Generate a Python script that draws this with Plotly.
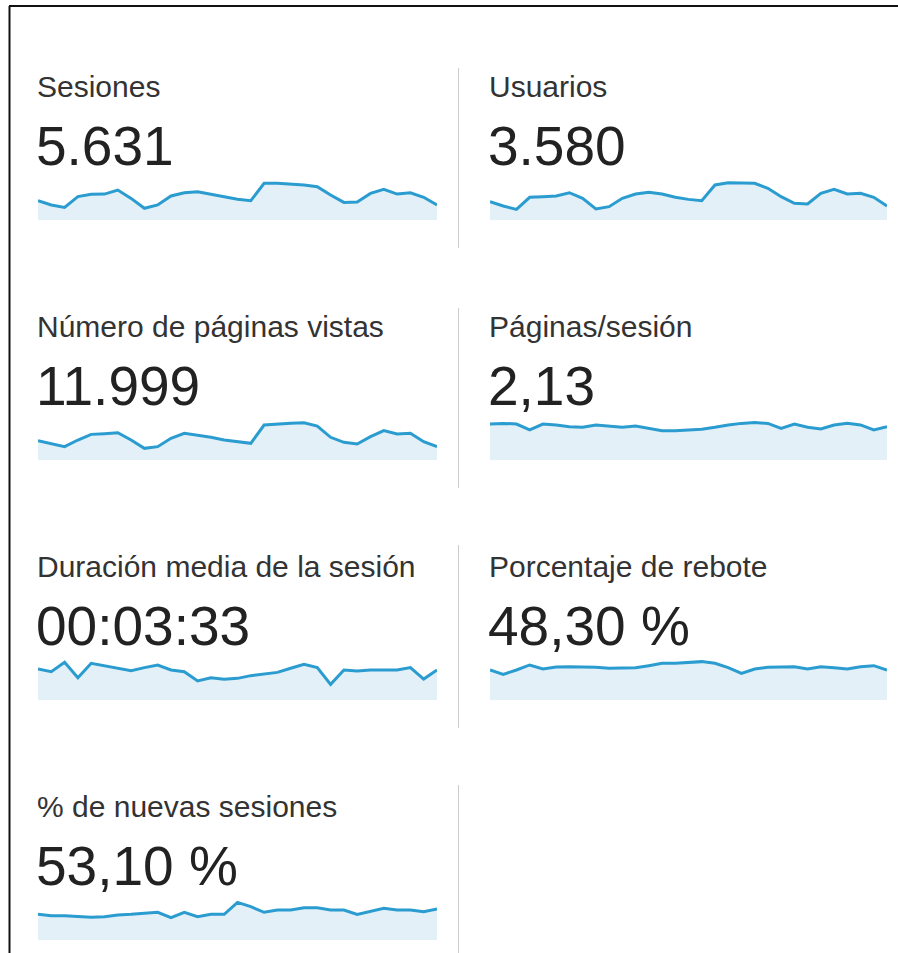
import plotly.graph_objects as go

W, H = 898, 953

days = list(range(1, 32))

titles = ["Sesiones", "Usuarios", "Número de páginas vistas", "Páginas/sesión",
          "Duración media de la sesión", "Porcentaje de rebote", "% de nuevas sesiones"]
totals = ["5.631", "3.580", "11.999", "2,13", "00:03:33", "48,30 %", "53,10 %"]

sesiones = [144, 112, 94, 174, 191, 193, 223, 161, 87, 112, 179, 203, 211, 193, 174, 154,
            144, 273, 273, 268, 260, 248, 186, 131, 134, 198, 228, 193, 203, 169, 112]
usuarios = [88, 67, 51, 109, 112, 115, 131, 104, 53, 64, 104, 125, 133, 125, 109, 99,
            93, 168, 179, 176, 176, 152, 112, 80, 77, 128, 147, 125, 128, 109, 67]
paginas_vistas = [302, 255, 208, 312, 400, 411, 426, 312, 182, 208, 338, 416, 390, 354, 312, 286,
                  260, 546, 562, 572, 582, 530, 354, 276, 250, 364, 458, 406, 416, 286, 208]
paginas_sesion = [2.30, 2.34, 2.30, 1.92, 2.30, 2.24, 2.13, 2.09, 2.24, 2.17, 2.09, 2.17, 2.02, 1.87,
                  1.87, 1.92, 1.96, 2.09, 2.24, 2.34, 2.39, 2.34, 2.02, 2.30, 2.09, 1.98, 2.24, 2.34,
                  2.24, 1.92, 2.13]
duracion_seg = [228, 208, 277, 164, 270, 252, 233, 216, 238, 257, 221, 208, 140, 164, 152, 159,
                179, 191, 203, 233, 262, 238, 115, 221, 213, 221, 221, 221, 238, 154, 221]
rebote = [44.1, 37.7, 44.1, 51.5, 45.6, 48.5, 49.0, 49.0, 48.0, 46.6, 46.6, 47.5, 50.5, 53.9, 53.9,
          55.4, 56.4, 53.9, 47.5, 39.2, 45.6, 48.0, 49.0, 49.0, 45.6, 49.0, 47.5, 45.6, 49.0, 50.5, 44.1]
nuevas = [48.1, 45.6, 45.6, 43.8, 42.5, 43.8, 46.9, 48.1, 50.0, 51.9, 41.9, 51.9, 43.8, 48.1, 48.1,
          70.6, 62.5, 51.9, 56.3, 56.3, 60.6, 60.6, 56.3, 56.3, 48.1, 53.1, 59.4, 56.3, 56.3, 53.1, 58.1]

series = [sesiones, usuarios, paginas_vistas, paginas_sesion, duracion_seg, rebote, nuevas]
y_tops = [298, 192, 624, 2.556, 294, 58.8, 75]

LINE = "#2b9ccf"
FILL = "#e3f0f8"


def px_x(x):
    return x / W


def px_y(y):
    return 1 - y / H


fig = go.Figure()
layout = dict(width=W, height=H, margin=dict(l=0, r=0, t=0, b=0),
              paper_bgcolor="white", plot_bgcolor="rgba(0,0,0,0)", showlegend=False)

annotations = []
shapes = []

col_x = [(38, 437), (490, 887)]
for i, (vals, title, total, ytop) in enumerate(zip(series, titles, totals, y_tops)):
    row, col = divmod(i, 2)
    x0, x1 = col_x[col]
    bottom = 220 + 240 * row
    top = bottom - 40
    n = i + 1
    xa = "x" if n == 1 else f"x{n}"
    ya = "y" if n == 1 else f"y{n}"
    fig.add_trace(go.Scatter(x=days, y=vals, mode="lines", fill="tozeroy",
                             fillcolor=FILL, line=dict(color=LINE, width=3),
                             xaxis=xa, yaxis=ya, hoverinfo="skip"))
    xkey = "xaxis" if n == 1 else f"xaxis{n}"
    ykey = "yaxis" if n == 1 else f"yaxis{n}"
    layout[xkey] = dict(domain=[px_x(x0), px_x(x1)], range=[1, 31], visible=False,
                        anchor=ya, fixedrange=True)
    layout[ykey] = dict(domain=[px_y(bottom), px_y(top)], range=[0, ytop], visible=False,
                        anchor=xa, fixedrange=True)
    ty = 86 + 240 * row
    annotations.append(dict(text=title, x=px_x(x0 - 3), y=px_y(ty), xref="paper", yref="paper",
                            xanchor="left", yanchor="middle", showarrow=False,
                            font=dict(family="Liberation Sans, Arial", size=30, color="#333333")))
    annotations.append(dict(text=total, x=px_x(x0 - 4), y=px_y(ty + 60), xref="paper", yref="paper",
                            xanchor="left", yanchor="middle", showarrow=False,
                            font=dict(family="Liberation Sans, Arial", size=55, color="#222222")))

# column separators
for (ya0, ya1) in [(68, 248), (308, 488), (545, 728), (785, 953)]:
    shapes.append(dict(type="line", xref="paper", yref="paper",
                       x0=px_x(458.5), x1=px_x(458.5), y0=px_y(ya0), y1=px_y(ya1),
                       line=dict(color="#cccccc", width=1)))

# outer frame (top and left)
shapes.append(dict(type="line", xref="paper", yref="paper", x0=px_x(9), x1=1.01,
                   y0=px_y(6), y1=px_y(6), line=dict(color="#111111", width=2)))
shapes.append(dict(type="line", xref="paper", yref="paper", x0=px_x(9.5), x1=px_x(9.5),
                   y0=px_y(6), y1=-0.01, line=dict(color="#111111", width=2)))

layout["annotations"] = annotations
layout["shapes"] = shapes
fig.update_layout(**layout)
fig.write_html("out.html", config={"displayModeBar": False})
